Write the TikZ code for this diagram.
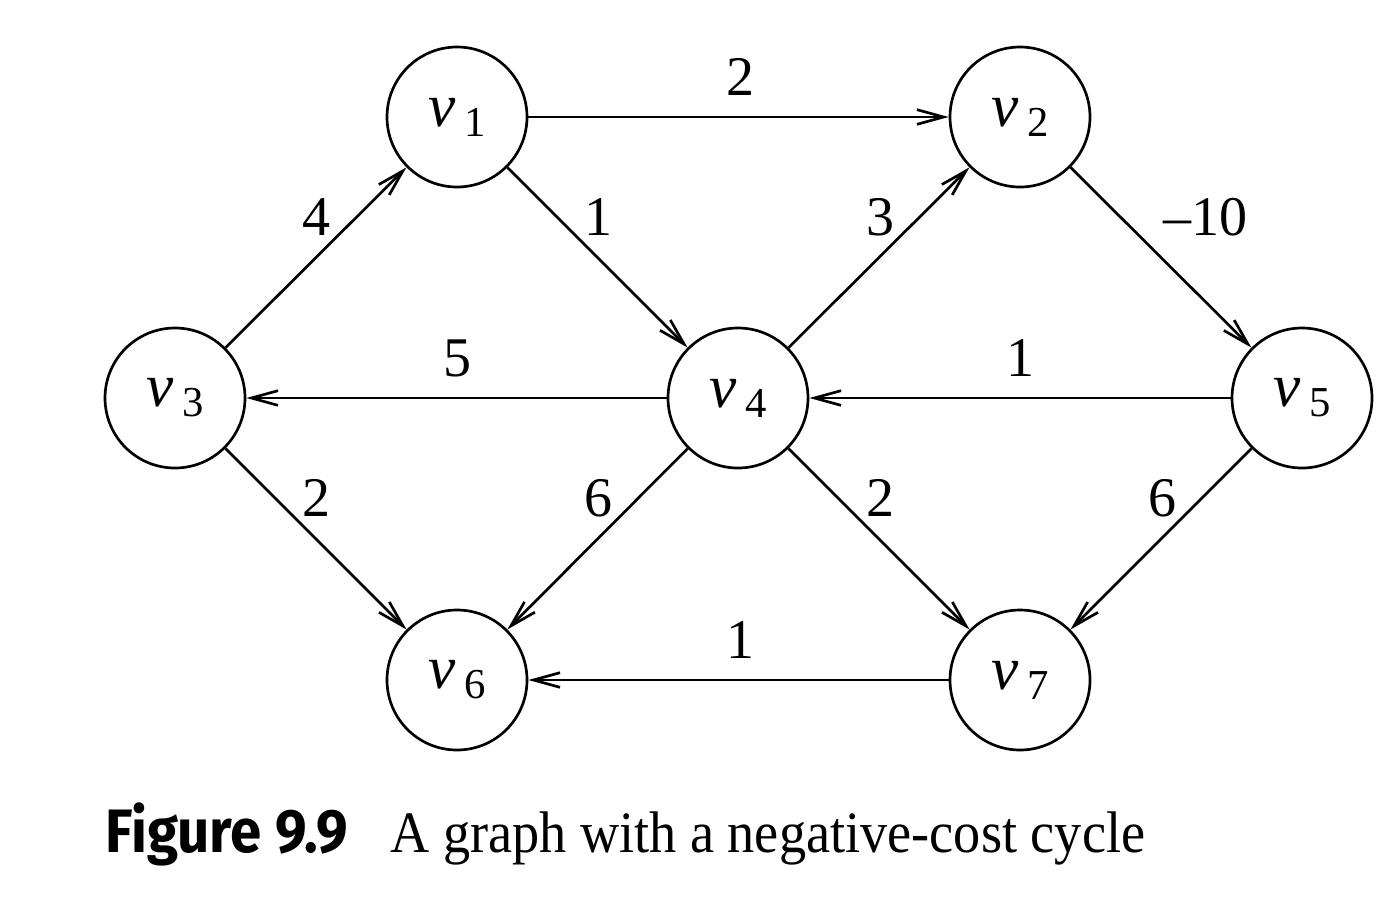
\documentclass[tikz,border=0pt]{standalone}
\usepackage{amsmath}
\usepackage{fontspec}
\setmainfont{Liberation Serif}
\newfontfamily\capsans{Fira Sans}
\usetikzlibrary{arrows.meta}

\newcommand{\vsub}[1]{\textit{v}\kern7pt\raisebox{-7.5pt}{\fontsize{32}{32}\selectfont #1}}

\begin{document}
\begin{tikzpicture}[x=0.75pt,y=0.75pt,yscale=-1,xscale=1,
  vert/.style={draw, circle, line width=2pt, minimum size=105pt, inner sep=0pt, font=\fontsize{46}{46}\selectfont},
  edge/.style={line width=2pt, -{Straight Barb[length=20pt,width=11pt]}},
  wt/.style={inner sep=0.75pt, font=\fontsize{42}{42}\selectfont}]
\useasboundingbox (0,0) rectangle (1389,900);

%Shape: Circle
\node [vert] (v1) at (457,117) {\vsub{1}};
%Shape: Circle
\node [vert] (v2) at (1020,117) {\vsub{2}};
%Shape: Circle
\node [vert] (v3) at (175,398) {\vsub{3}};
%Shape: Circle
\node [vert] (v4) at (738,398) {\vsub{4}};
%Shape: Circle
\node [vert] (v5) at (1302,398) {\vsub{5}};
%Shape: Circle
\node [vert] (v6) at (457,680) {\vsub{6}};
%Shape: Circle
\node [vert] (v7) at (1020,680) {\vsub{7}};

%Straight Lines
\draw [edge] (v1) -- (v2);
\draw [edge] (v1) -- (v4);
\draw [edge] (v3) -- (v1);
\draw [edge] (v4) -- (v2);
\draw [edge] (v2) -- (v5);
\draw [edge] (v4) -- (v3);
\draw [edge] (v5) -- (v4);
\draw [edge] (v3) -- (v6);
\draw [edge] (v4) -- (v6);
\draw [edge] (v4) -- (v7);
\draw [edge] (v5) -- (v7);
\draw [edge] (v7) -- (v6);

% Text Node
\node [wt] (w12) at (740,77) {2};
% Text Node
\node [wt] (w14) at (598,217) {1};
% Text Node
\node [wt] (w31) at (316,217) {4};
% Text Node
\node [wt] (w42) at (880,217) {3};
% Text Node
\node [wt] (w25) at (1205,217) {--10};
% Text Node
\node [wt] (w43) at (457,358) {5};
% Text Node
\node [wt] (w54) at (1020,358) {1};
% Text Node
\node [wt] (w36) at (316,498) {2};
% Text Node
\node [wt] (w46) at (598,498) {6};
% Text Node
\node [wt] (w47) at (880,498) {2};
% Text Node
\node [wt] (w57) at (1162,498) {6};
% Text Node
\node [wt] (w76) at (740,640) {1};

% Text Node
\node [anchor=base west, inner sep=0pt] (figlab) at (105,852) {\scalebox{0.92}[1]{\capsans\bfseries\fontsize{46}{46}\selectfont Figure 9.9}};
% Text Node
\node [anchor=base west, inner sep=0pt] (figtxt) at (390,852) {\scalebox{0.925}[1]{\fontsize{44}{44}\selectfont A graph with a negative-cost cycle}};

\end{tikzpicture}
\end{document}
